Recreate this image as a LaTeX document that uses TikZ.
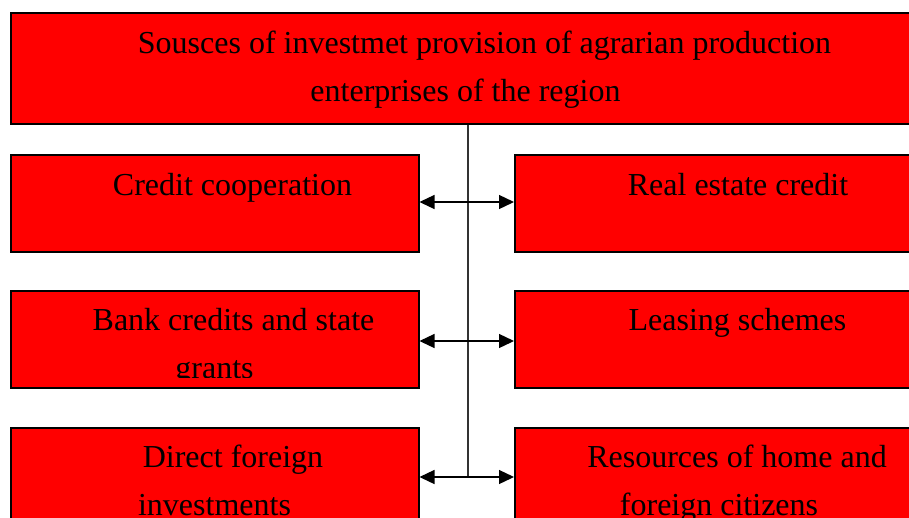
\documentclass[tikz,border=0pt]{standalone}
\usepackage{fontspec}
\setmainfont{Liberation Serif}
\usetikzlibrary{arrows.meta}
\tikzset{
  redbox/.style={draw=black, line width=1.5pt, fill={rgb,255:red,255;green,0;blue,0}, rectangle, anchor=north west, inner sep=0pt},
  lbox/.style={redbox, minimum width=408pt, minimum height=97pt},
  rbox/.style={redbox, minimum width=420pt, minimum height=97pt},
  txt/.style={anchor=base, inner sep=0pt, font=\fontsize{32}{38}\selectfont},
  link/.style={line width=1.3pt, {Triangle[length=15pt,width=14pt]}-{Triangle[length=15pt,width=14pt]}},
  trunk/.style={line width=1.1pt, draw=black!80}
}
\begin{document}
\begin{tikzpicture}[x=1pt, y=-1pt]
\useasboundingbox (0,0) rectangle (909,517);
\clip (0,0) rectangle (909,517);
% boxes
\node[redbox, minimum width=920pt, minimum height=111pt] (top) at (10,12) {};
\node[lbox] (l1) at (10,154) {};
\node[lbox] (l2) at (10,290) {};
\node[lbox] (l3) at (10,427) {};
\node[rbox] (r1) at (514,154) {};
\node[rbox] (r2) at (514,290) {};
\node[rbox] (r3) at (514,427) {};
% texts
\node[txt] (t1) at (484.5,53) {Sousces of investmet provision of agrarian production};
\node[txt] (t2) at (465.5,101) {enterprises of the region};
\node[txt] (tl1) at (232.5,195) {Credit cooperation};
\node[txt] (tr1) at (738,195) {Real estate credit};
\node[txt] (tl2a) at (233.5,330) {Bank credits and state};
\begin{scope}
\clip (10,290) rectangle (418,377);
\node[txt] (tl2b) at (214.5,378) {grants};
\end{scope}
\node[txt] (tr2) at (737.5,330) {Leasing schemes};
\node[txt] (tl3a) at (233,467) {Direct foreign};
\node[txt] (tl3b) at (214.5,515) {investments};
\node[txt] (tr3a) at (737,467) {Resources of home and};
\node[txt] (tr3b) at (719,515) {foreign citizens};
% connectors
\coordinate (j1) at (468,202);
\coordinate (j2) at (468,341);
\coordinate (j3) at (468,477);
\draw[trunk] (j1 |- top.south) -- (j3);
\draw[link] (l1.east |- j1) -- (r1.west |- j1);
\draw[link] (l2.east |- j2) -- (r2.west |- j2);
\draw[link] (l3.east |- j3) -- (r3.west |- j3);
\end{tikzpicture}
\end{document}
